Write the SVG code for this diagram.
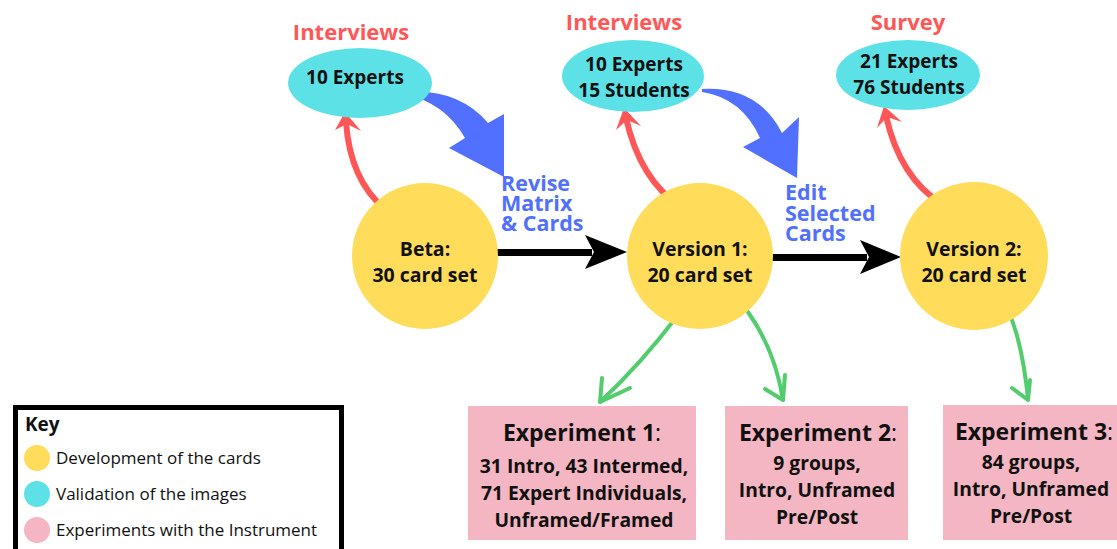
<svg xmlns="http://www.w3.org/2000/svg" width="1117" height="549" viewBox="0 0 1117 549">
<style>
.lbl{font-family:"Open Sans","Liberation Sans",sans-serif;font-weight:700;fill:#FF5757;font-size:22px;text-anchor:middle}
.nt{font-family:"Open Sans","Liberation Sans",sans-serif;font-weight:700;fill:#111;font-size:19px;text-anchor:middle}
.ct{font-family:"Open Sans","Liberation Sans",sans-serif;font-weight:700;fill:#111;font-size:19.5px;text-anchor:middle}
.bt{font-family:"Open Sans","Liberation Sans",sans-serif;font-weight:700;fill:#5170FF;font-size:21.5px}
.eh{font-family:"Open Sans","Liberation Sans",sans-serif;font-weight:700;fill:#111;font-size:23px;text-anchor:middle}
.et{font-family:"Open Sans","Liberation Sans",sans-serif;font-weight:700;fill:#111;font-size:19.3px;text-anchor:middle}
.kt{font-family:"Open Sans","Liberation Sans",sans-serif;fill:#111;font-size:17px}
.yel{fill:#FFDC59}.cy{fill:#5CE1E6}.pk{fill:#F4B6C2}
.red{fill:none;stroke:#FF5757;stroke-width:6;stroke-linecap:round}
.grn{fill:none;stroke:#52CC6E;stroke-width:4;stroke-linecap:round;stroke-linejoin:round}
</style>
<rect width="1117" height="549" fill="#fff"/>
<g id="connectors">
  <rect x="496" y="249" width="96" height="7" fill="#000"/>
  <path d="M585,235 L627,252 L585,269 L594,252 Z" fill="#000"/>
  <rect x="771" y="254" width="96" height="7" fill="#000"/>
  <path d="M860,240 L901,257 L860,274 L869,257 Z" fill="#000"/>
  <path d="M405,92 Q458,88 488,123 L504,114 L504,177 L449,148 L465,138 Q445,103 405,94 Z" fill="#5170FF"/>
  <path d="M702,89 Q758,86 782,133 L799,117 L797,178 L743,147 L760,138 Q742,98 702,92 Z" fill="#5170FF"/>
  <path class="red" d="M385,209 Q350,180 346,122"/>
  <path d="M345,112 L361,131 L347,124 L335,130 Z" fill="#FF5757"/>
  <path class="red" d="M681,207 Q640,180 626,118"/>
  <path d="M624,108 L641,126 L627,120 L616,130 Z" fill="#FF5757"/>
  <path class="red" d="M942,204 Q900,178 886,116"/>
  <path d="M884,106 L902,122 L887,117 L877,128 Z" fill="#FF5757"/>
  <path class="grn" d="M678,315 Q640,365 600,402"/>
  <path class="grn" d="M602,378 L600,402 L630,388"/>
  <path class="grn" d="M748,312 Q775,350 783,400"/>
  <path class="grn" d="M765,389 L783,400 L785,375"/>
  <path class="grn" d="M1007,308 Q1022,340 1028,399"/>
  <path class="grn" d="M1012,388 L1028,400 L1030,380"/>
</g>
<g id="label-interviews1"><text class="lbl" x="351" y="40">Interviews</text></g>
<g id="label-interviews2"><text class="lbl" x="624" y="30">Interviews</text></g>
<g id="label-survey"><text class="lbl" x="908" y="30">Survey</text></g>
<g id="val1"><ellipse class="cy" cx="360" cy="83" rx="72" ry="35"/><text class="nt" x="355" y="84">10 Experts</text></g>
<g id="val2"><ellipse class="cy" cx="633" cy="76" rx="71" ry="36"/><text class="nt" x="634" y="71">10 Experts</text><text class="nt" x="634" y="97">15 Students</text></g>
<g id="val3"><ellipse class="cy" cx="908" cy="75" rx="72" ry="35"/><text class="nt" x="909" y="68">21 Experts</text><text class="nt" x="909" y="94">76 Students</text></g>
<g id="beta"><circle class="yel" cx="425" cy="256" r="73"/><text class="ct" x="425" y="256">Beta:</text><text class="ct" x="425" y="282">30 card set</text></g>
<g id="v1"><circle class="yel" cx="700" cy="256" r="73"/><text class="ct" x="700" y="256">Version 1:</text><text class="ct" x="700" y="282">20 card set</text></g>
<g id="v2"><circle class="yel" cx="974" cy="256" r="74"/><text class="ct" x="974" y="256">Version 2:</text><text class="ct" x="974" y="282">20 card set</text></g>
<g id="label-revise"><text class="bt" x="501" y="191">Revise</text><text class="bt" x="501" y="211">Matrix</text><text class="bt" x="501" y="231">&amp; Cards</text></g>
<g id="label-edit"><text class="bt" x="785" y="200">Edit</text><text class="bt" x="785" y="221">Selected</text><text class="bt" x="785" y="241">Cards</text></g>
<g id="exp1"><rect class="pk" x="468" y="406" width="228" height="134"/>
<text class="eh" x="582" y="441">Experiment 1<tspan font-weight="400">:</tspan></text>
<text class="et" x="584" y="473">31 Intro, 43 Intermed,</text>
<text class="et" x="584" y="500">71 Expert Individuals,</text>
<text class="et" x="584" y="527">Unframed/Framed</text></g>
<g id="exp2"><rect class="pk" x="725" y="406" width="183" height="134"/>
<text class="eh" x="818" y="441">Experiment 2<tspan font-weight="400">:</tspan></text>
<text class="et" x="817" y="470">9 groups,</text>
<text class="et" x="817" y="497">Intro, Unframed</text>
<text class="et" x="817" y="524">Pre/Post</text></g>
<g id="exp3"><rect class="pk" x="943" y="405" width="174" height="135"/>
<text class="eh" x="1034" y="440">Experiment 3<tspan font-weight="400">:</tspan></text>
<text class="et" x="1031" y="469">84 groups,</text>
<text class="et" x="1031" y="496">Intro, Unframed</text>
<text class="et" x="1031" y="523">Pre/Post</text></g>
<g id="key">
<rect x="15.5" y="407.5" width="326" height="150" fill="#fff" stroke="#000" stroke-width="5"/>
<text x="25" y="431" font-family="'Open Sans','Liberation Sans',sans-serif" font-weight="700" font-size="19" fill="#111">Key</text>
<circle class="yel" cx="37" cy="458" r="13"/><text class="kt" x="56" y="464">Development of the cards</text>
<circle class="cy" cx="37" cy="494" r="13"/><text class="kt" x="56" y="500">Validation of the images</text>
<circle class="pk" cx="37" cy="530" r="13"/><text class="kt" x="56" y="536">Experiments with the Instrument</text>
</g>
</svg>
